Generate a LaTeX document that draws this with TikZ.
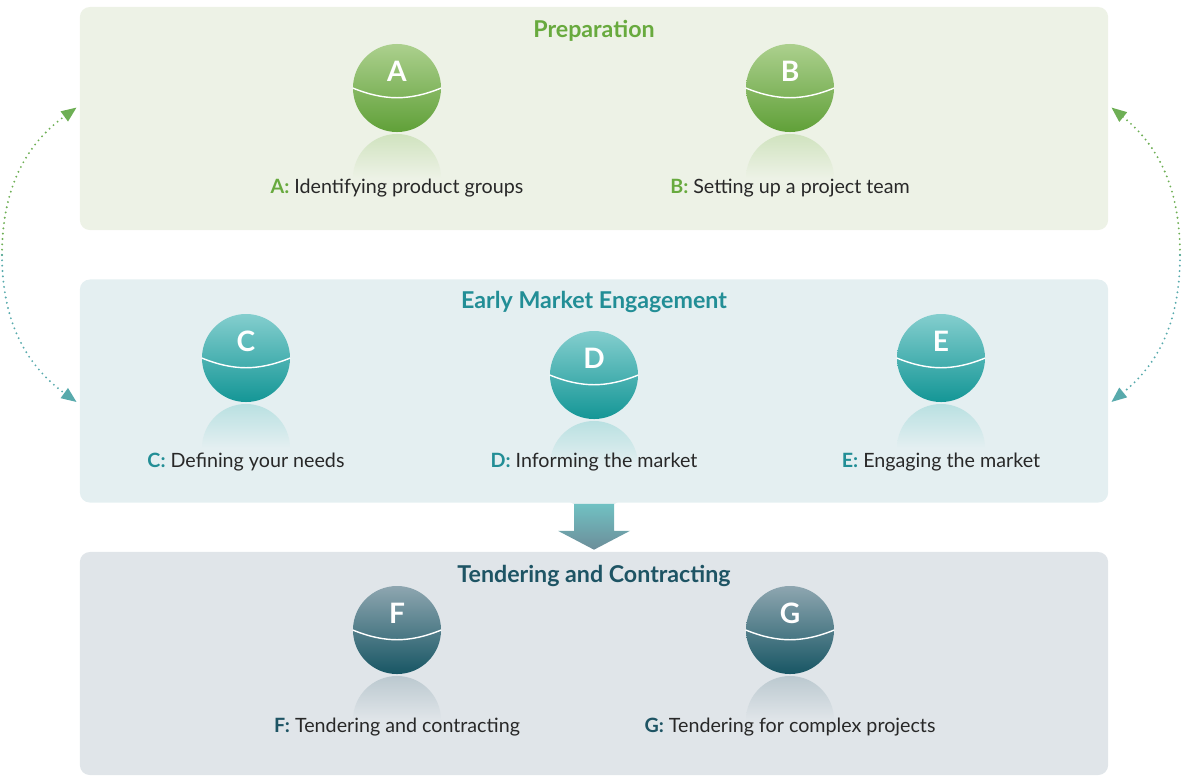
\documentclass[tikz,border=0pt]{standalone}
\usepackage{fontspec}
\setmainfont{Lato}
\usepackage{tikz}
\usetikzlibrary{arrows.meta,calc,positioning,shapes}

\definecolor{prepfill}{RGB}{237,242,230}
\definecolor{earlyfill}{RGB}{228,239,241}
\definecolor{tenderfill}{RGB}{224,229,233}
\definecolor{prepgreen}{RGB}{104,170,62}
\definecolor{earlyteal}{RGB}{34,142,150}
\definecolor{tenderblue}{RGB}{30,84,100}
\definecolor{captext}{RGB}{40,40,40}
\definecolor{greentop}{RGB}{172,208,142}
\definecolor{greenbot}{RGB}{96,160,56}
\definecolor{tealtop}{RGB}{132,206,206}
\definecolor{tealbot}{RGB}{20,150,150}
\definecolor{darktop}{RGB}{142,166,176}
\definecolor{darkbot}{RGB}{24,86,100}
\definecolor{loopgreen}{RGB}{110,175,85}
\definecolor{loopteal}{RGB}{88,170,172}

\begin{document}
\begin{tikzpicture}[
    x=0.025cm, y=-0.025cm,
    panel/.style={rectangle, rounded corners=0.25cm, minimum width=25.7cm, minimum height=5.575cm, inner sep=0pt},
    title/.style={font=\fontsize{16.5}{20}\selectfont\bfseries},
    ball/.style={circle, minimum size=2.2cm, inner sep=0pt},
    mirror/.style={circle, minimum size=2.2cm, inner sep=0pt},
    letter/.style={text=white, font=\fontsize{20}{24}\selectfont\bfseries},
    rim/.style={white, line width=1pt},
    caption/.style={text=captext, font=\fontsize{14}{17}\selectfont},
    loopline/.style={line width=1.5pt, line cap=round, dash pattern=on 0pt off 3.8pt},
    looptip/.style={-{Triangle[length=0.38cm, width=0.3cm]}}
]
\useasboundingbox (0,0) rectangle (1182,779);

% panels
\node[panel, fill=prepfill] (prep) at (594,118.5) {};
\node[panel, fill=earlyfill] (early) at (594,391) {};
\node[panel, fill=tenderfill] (tender) at (594,663.5) {};

\node[title, text=prepgreen] (preptitle) at ($(prep.north)+(0,24)$) {Preparation};
\node[title, text=earlyteal] (earlytitle) at ($(early.north)+(0,23)$) {Early Market Engagement};
\node[title, text=tenderblue] (tendertitle) at ($(tender.north)+(0,24)$) {Tendering and Contracting};

% reflections
\node[mirror, top color=greentop!45!prepfill, bottom color=prepfill, middle color=prepfill] (Am) at (397,178) {};
\node[mirror, top color=greentop!45!prepfill, bottom color=prepfill, middle color=prepfill] (Bm) at (790,178) {};
\node[mirror, top color=tealtop!45!earlyfill, bottom color=earlyfill, middle color=earlyfill] (Cm) at (246,448) {};
\node[mirror, top color=tealtop!45!earlyfill, bottom color=earlyfill, middle color=earlyfill] (Dm) at (594,465) {};
\node[mirror, top color=tealtop!45!earlyfill, bottom color=earlyfill, middle color=earlyfill] (Em) at (941,448) {};
\node[mirror, top color=darktop!45!tenderfill, bottom color=tenderfill, middle color=tenderfill] (Fm) at (397,720) {};
\node[mirror, top color=darktop!45!tenderfill, bottom color=tenderfill, middle color=tenderfill] (Gm) at (790,720) {};

% balls
\node[ball, top color=greentop, bottom color=greenbot] (A) at (397,88) {};
\node[ball, top color=greentop, bottom color=greenbot] (B) at (790,88) {};
\node[ball, top color=tealtop, bottom color=tealbot] (C) at (246,358) {};
\node[ball, top color=tealtop, bottom color=tealbot] (D) at (594,375) {};
\node[ball, top color=tealtop, bottom color=tealbot] (E) at (941,358) {};
\node[ball, top color=darktop, bottom color=darkbot] (F) at (397,630) {};
\node[ball, top color=darktop, bottom color=darkbot] (G) at (790,630) {};

\foreach \b in {A,B,C,D,E,F,G} {
  \draw[rim] (\b.west) to[bend right=22] (\b.east);
  \node[letter] (\b l) at ($(\b)+(0,-17)$) {\b};
}

% captions
\node[caption] (Acap) at (397,188) {\textcolor{prepgreen}{\bfseries A:} Identifying product groups};
\node[caption] (Bcap) at (790,188) {\textcolor{prepgreen}{\bfseries B:} Setting up a project team};
\node[caption] (Ccap) at (246,462) {\textcolor{earlyteal}{\bfseries C:} Defining your needs};
\node[caption] (Dcap) at (594,462) {\textcolor{earlyteal}{\bfseries D:} Informing the market};
\node[caption] (Ecap) at (941,462) {\textcolor{earlyteal}{\bfseries E:} Engaging the market};
\node[caption] (Fcap) at (397,727) {\textcolor{tenderblue}{\bfseries F:} Tendering and contracting};
\node[caption] (Gcap) at (790,727) {\textcolor{tenderblue}{\bfseries G:} Tendering for complex projects};

% flow arrow between stages
\shade[top color=tealtop!80!earlyteal, bottom color=darktop!70!tenderblue]
  ($(early.south)+(-20,1)$) -- ($(early.south)+(20,1)$) -- ($(early.south)+(20,28)$)
  -- ($(early.south)+(36,28)$) -- ($(tender.north)+(0,-2)$) -- ($(early.south)+(-36,28)$)
  -- ($(early.south)+(-20,28)$) -- cycle;

% feedback loops
\coordinate (lt) at ($(prep.west)+(-3,-11)$);
\coordinate (lb) at ($(early.west)+(-3,11)$);
\coordinate (lm) at (2,255);
\coordinate (rt) at ($(prep.east)+(3,-11)$);
\coordinate (rb) at ($(early.east)+(3,11)$);
\coordinate (rm) at (1180,255);

\draw[loopline, loopgreen, looptip] (lm) to[out=90, in=216] (lt);
\draw[loopline, loopteal, looptip] (lm) to[out=270, in=144] (lb);
\draw[loopline, loopgreen, looptip] (rm) to[out=90, in=321] (rt);
\draw[loopline, loopteal, looptip] (rm) to[out=270, in=39] (rb);
\end{tikzpicture}
\end{document}
